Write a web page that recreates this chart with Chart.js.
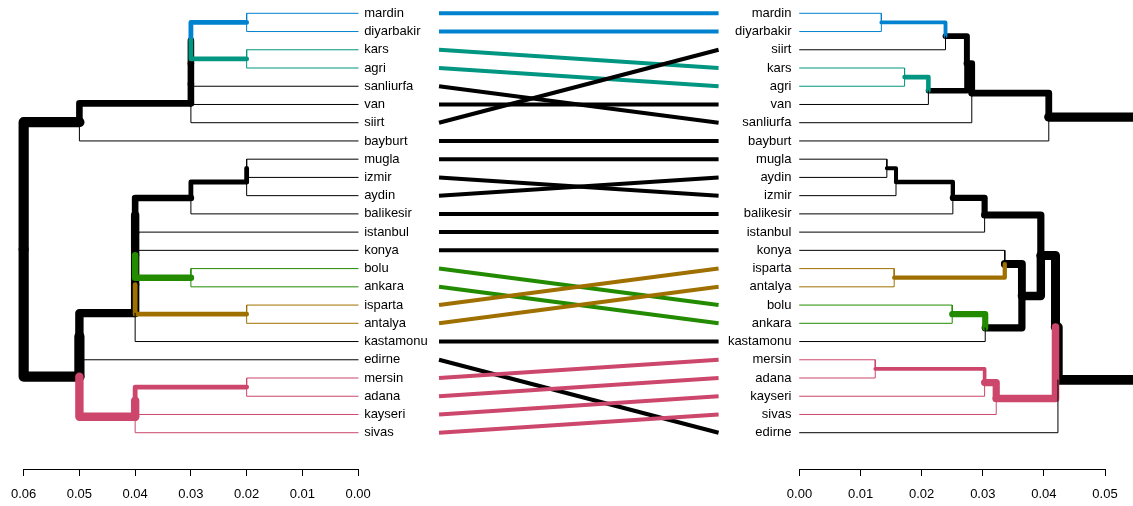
<!DOCTYPE html>
<html><head><meta charset="utf-8">
<script src="https://cdn.jsdelivr.net/npm/chart.js@4.4.0/dist/chart.umd.min.js"></script>
<style>html,body{margin:0;padding:0;background:#fff;overflow:hidden}</style>
</head><body>
<canvas id="c" width="1133" height="506" style="display:block;width:1133px;height:506px"></canvas>
<script>
// ---- data ----
const leftLabels = ["mardin","diyarbakir","kars","agri","sanliurfa","van","siirt","bayburt","mugla","izmir","aydin","balikesir","istanbul","konya","bolu","ankara","isparta","antalya","kastamonu","edirne","mersin","adana","kayseri","sivas"];
const rightLabels = ["mardin","diyarbakir","siirt","kars","agri","van","sanliurfa","bayburt","mugla","aydin","izmir","balikesir","istanbul","konya","isparta","antalya","bolu","ankara","kastamonu","mersin","adana","kayseri","sivas","edirne"];

// merges: children are leaf names or indices of earlier merges
const leftMerges = [["mardin","diyarbakir"],["kars","agri"],[0,1],[2,"sanliurfa"],[3,"van"],[4,"siirt"],[5,"bayburt"],
  ["mugla","izmir"],[7,"aydin"],[8,"balikesir"],[9,"istanbul"],[10,"konya"],["bolu","ankara"],[11,12],["isparta","antalya"],
  [13,14],[15,"kastamonu"],[16,"edirne"],["mersin","adana"],[18,"kayseri"],[19,"sivas"],[17,20],[6,21]];
const leftHeights = [0.02,0.02,0.03,0.03,0.03,0.03,0.05,0.02,0.02,0.03,0.04,0.04,0.03,0.04,0.02,0.04,0.04,0.05,0.02,0.04,0.04,0.05,0.06];

const rightMerges = [["mardin","diyarbakir"],[0,"siirt"],["kars","agri"],[2,"van"],[1,3],[4,"sanliurfa"],[5,"bayburt"],
  ["mugla","aydin"],[7,"izmir"],[8,"balikesir"],[9,"istanbul"],["isparta","antalya"],["konya",11],["bolu","ankara"],[13,"kastamonu"],
  [12,14],[10,15],["mersin","adana"],[17,"kayseri"],[18,"sivas"],[16,19],[20,"edirne"],[6,21]];
const rightHeights = [0.0134,0.0239,0.0172,0.0211,0.0274,0.0282,0.0408,0.0143,0.0158,0.0251,0.0303,0.0155,0.0336,0.0250,0.0304,0.0364,0.0395,0.0124,0.0303,0.0322,0.0419,0.0423,0.0546];

const clusterMembers = [["mardin","diyarbakir"],["kars","agri"],["bolu","ankara"],["isparta","antalya"],["mersin","adana","kayseri","sivas"]];
const clusterColors = ["#0082CE","#009681","#228B00","#9F7000","#CC476B"];

const leftTicks = [0.06,0.05,0.04,0.03,0.02,0.01,0.00];
const rightTicks = [0.00,0.01,0.02,0.03,0.04,0.05];

// ---- build ----
const FONT = '"Liberation Sans", Arial, Helvetica, sans-serif';
function leafColor(name){
  for (let i=0;i<clusterMembers.length;i++) if (clusterMembers[i].includes(name)) return clusterColors[i];
  return "#000000";
}
function buildTree(labels, merges, heights, axisID){
  const hmax = Math.max(...heights);
  const nodes = [];
  const resolve = c => typeof c === "string" ? {h:0, y:labels.indexOf(c), color:leafColor(c), leaf:true} : nodes[c];
  merges.forEach((m,i)=>{
    const kids = m.map(resolve);
    const col = kids.every(k=>k.color===kids[0].color) ? kids[0].color : "#000000";
    nodes.push({h:heights[i], y:(kids[0].y+kids[1].y)/2, color:col, kids, leaf:false});
  });
  const edges = [];
  (function walk(node){
    for (const k of node.kids){
      const w = k.leaf ? 1 : 1.2*(1+9*k.h/hmax);
      edges.push({
        data:[{x:k.h,y:k.y},{x:node.h,y:k.y},{x:node.h,y:node.y}],
        xAxisID:axisID, yAxisID:"y", borderColor:k.color, backgroundColor:k.color,
        borderWidth:w, showLine:true, pointRadius:0, pointHoverRadius:0, tension:0,
        borderCapStyle:"round", borderJoinStyle:"round", clip:false, fill:false
      });
      if (!k.leaf) walk(k);
    }
  })(nodes[nodes.length-1]);
  return edges;
}
const connectors = leftLabels.map((name,i)=>({
  data:[{x:0,y:i},{x:1,y:rightLabels.indexOf(name)}],
  xAxisID:"xm", yAxisID:"y", borderColor:leafColor(name), backgroundColor:leafColor(name),
  borderWidth:4, showLine:true, pointRadius:0, pointHoverRadius:0, tension:0,
  borderCapStyle:"butt", clip:false, fill:false
}));
const drawList = [...connectors, ...buildTree(leftLabels,leftMerges,leftHeights,"xl"), ...buildTree(rightLabels,rightMerges,rightHeights,"xr")];
const datasets = drawList.reverse(); // first in list is drawn on top in Chart.js

const labelPlugin = {
  id:"leafLabels",
  afterDatasetsDraw(chart){
    const {ctx, scales} = chart;
    ctx.save();
    ctx.font = "13px " + FONT;
    ctx.fillStyle = "#000";
    ctx.textBaseline = "middle";
    ctx.textAlign = "left";
    const xl0 = scales.xl.getPixelForValue(0) + 6;
    leftLabels.forEach((t,i)=>ctx.fillText(t, xl0, scales.y.getPixelForValue(i)));
    ctx.textAlign = "right";
    const xr0 = scales.xr.getPixelForValue(0) - 8;
    rightLabels.forEach((t,i)=>ctx.fillText(t, xr0, scales.y.getPixelForValue(i)));
    ctx.restore();
  }
};

function axisOpts(extra, tickList){
  return Object.assign({
    type:"linear", position:"bottom", stack:"axes",
    border:{display:true, color:"#000", width:1},
    grid:{display:true, drawOnChartArea:false, drawTicks:true, tickLength:7, color:"#000", lineWidth:1},
    ticks:{padding:11, color:"#000", font:{size:13, family:FONT}, autoSkip:false, maxRotation:0, minRotation:0,
      callback:v=>Number(v).toFixed(2)},
    afterBuildTicks:s=>{ s.ticks = tickList.map(v=>({value:v})); },
    afterFit:s=>{ s.height = 37; }
  }, extra);
}

new Chart(document.getElementById("c"), {
  type:"scatter",
  data:{datasets},
  options:{
    responsive:false, animation:false, devicePixelRatio:1, events:[],
    layout:{padding:{left:22, right:28, top:4, bottom:0}},
    plugins:{legend:{display:false}, tooltip:{enabled:false}, title:{display:false}},
    scales:{
      y:{type:"linear", display:false, reverse:true, min:-0.51, max:24.99},
      xl:axisOpts({weight:1, stackWeight:335, reverse:true, min:0, max:0.06}, leftTicks),
      xm:{type:"linear", position:"bottom", stack:"axes", weight:2, stackWeight:442, min:-0.2893, max:1.2893,
        border:{display:false}, grid:{display:false}, ticks:{display:false},
        afterFit:s=>{ s.height = 37; }},
      xr:axisOpts({weight:3, stackWeight:306, min:0, max:0.05}, rightTicks)
    }
  },
  plugins:[labelPlugin]
});
</script>
</body></html>
